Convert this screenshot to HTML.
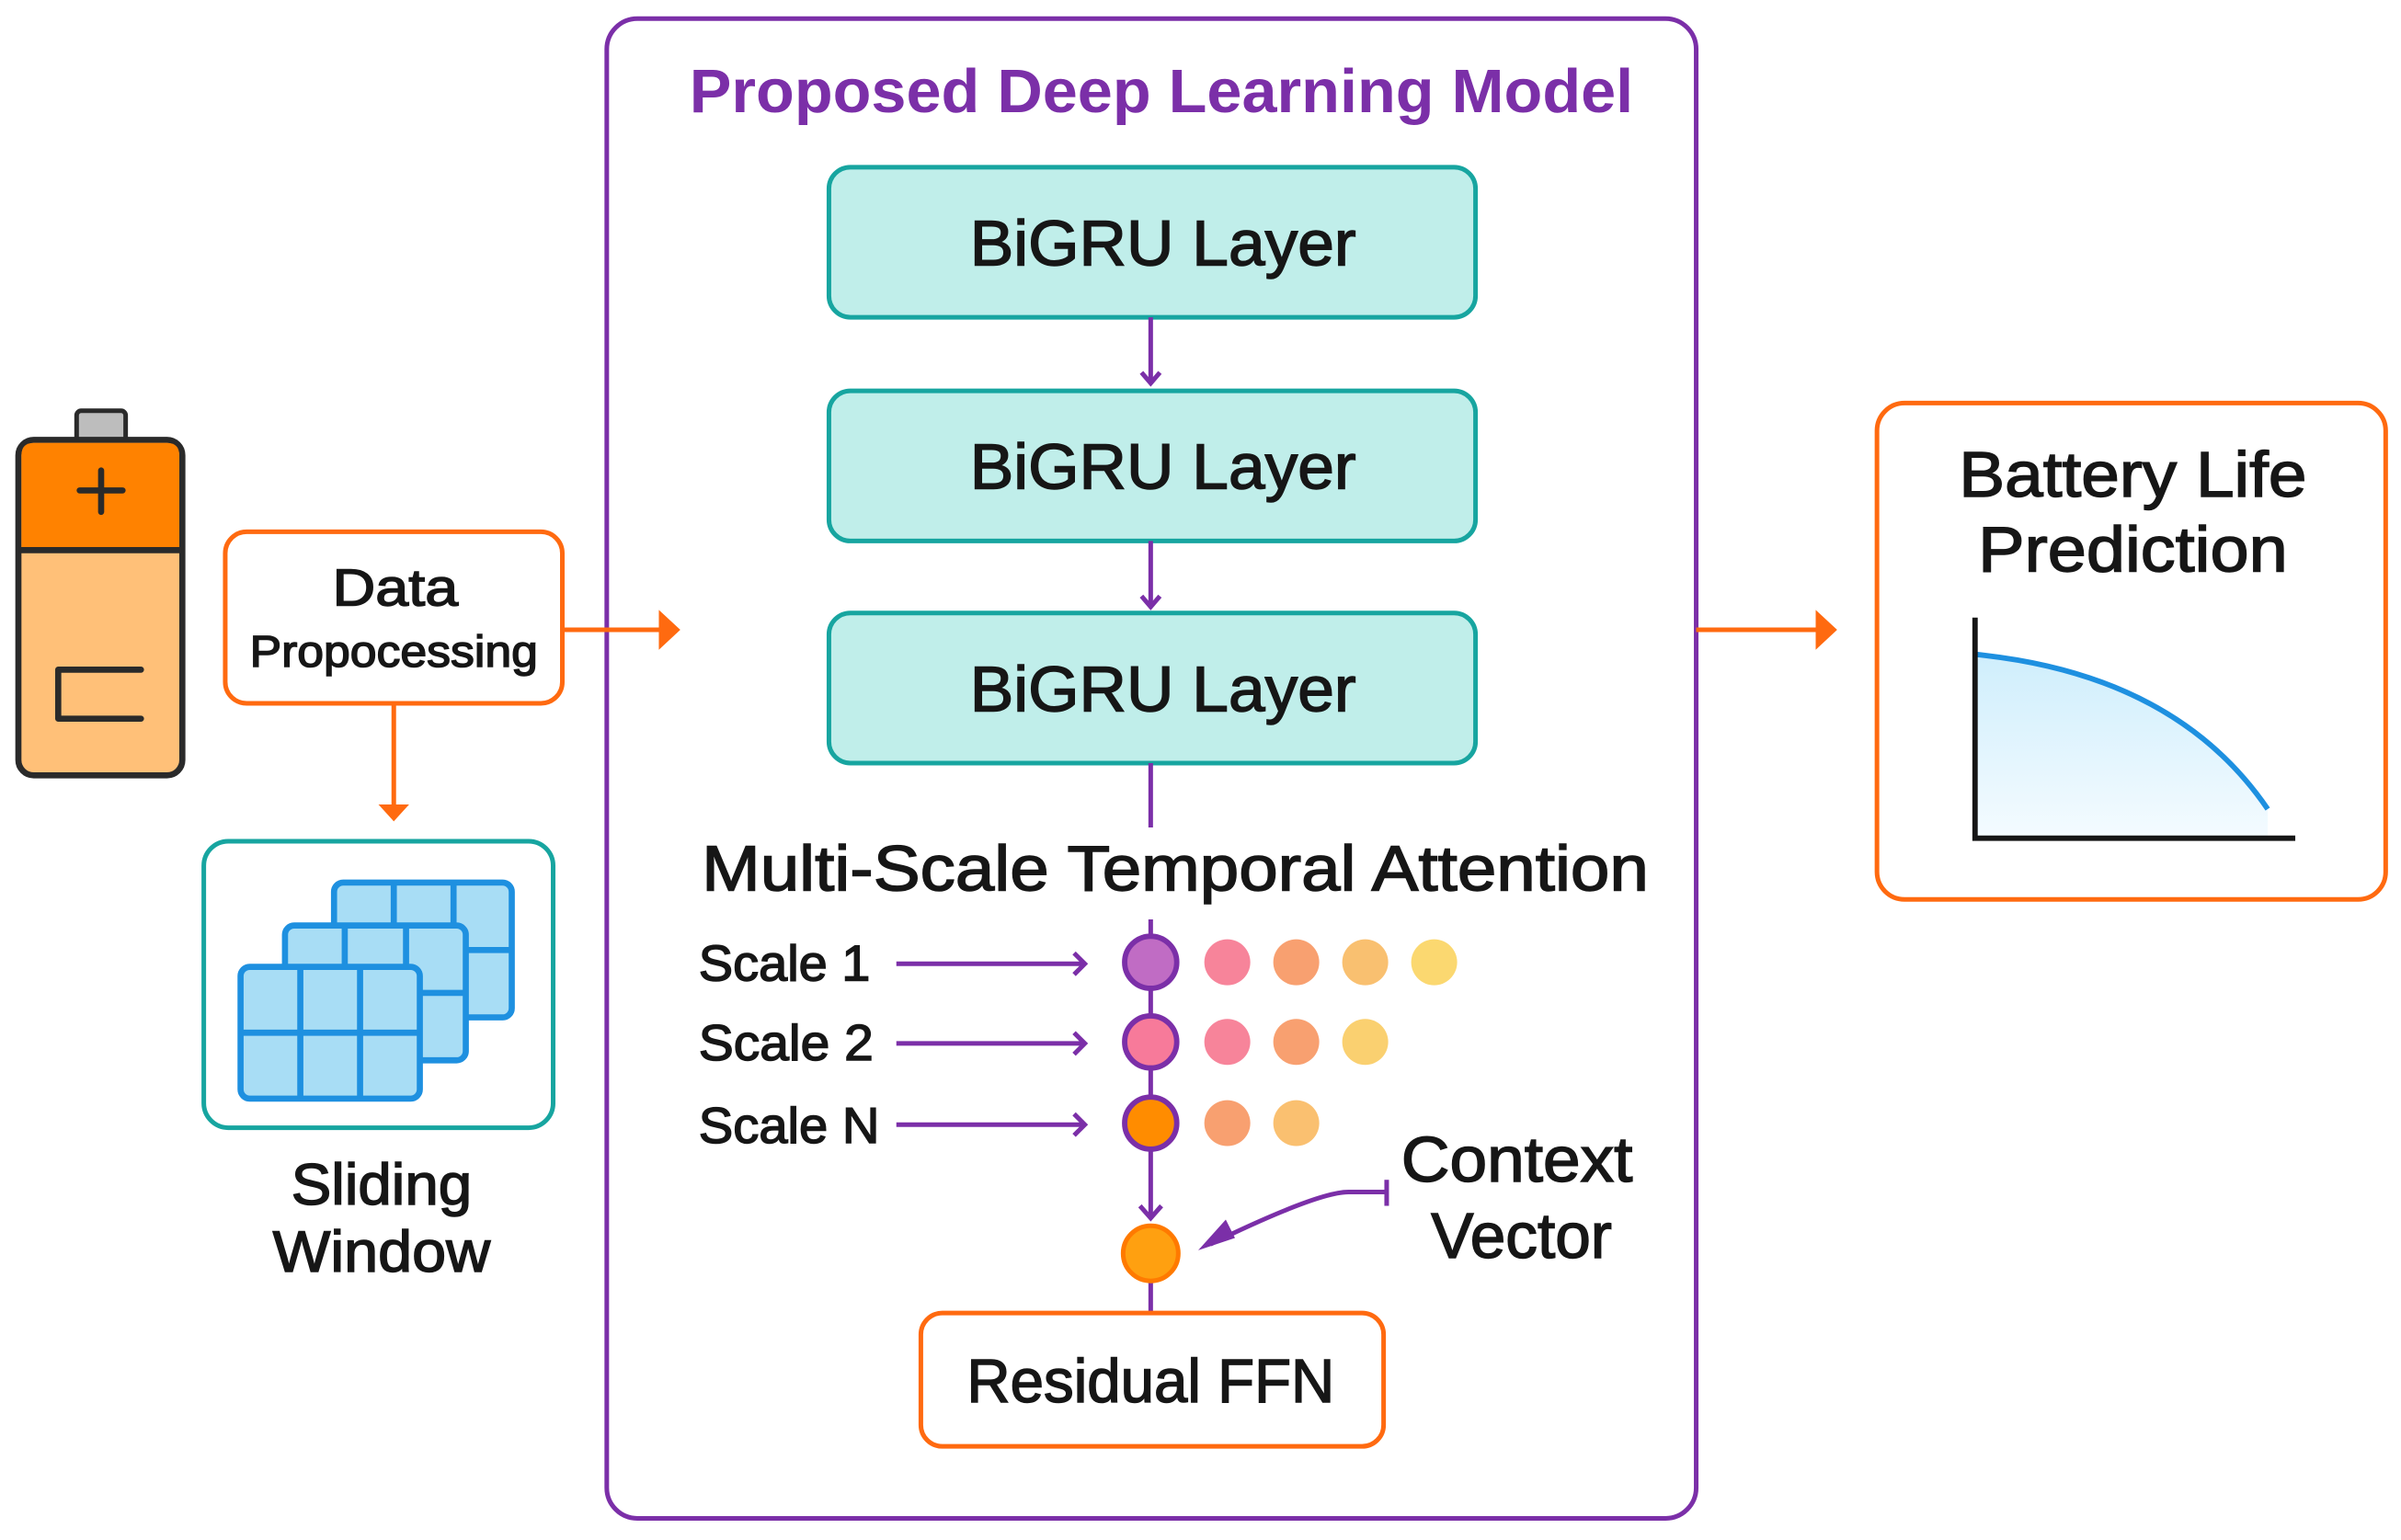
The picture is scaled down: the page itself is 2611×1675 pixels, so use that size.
<!DOCTYPE html>
<html><head><meta charset="utf-8"><style>
html,body{margin:0;padding:0;background:#fff;}
svg{display:block;}
text{font-family:"Liberation Sans",sans-serif;fill:#161616;stroke:#161616;stroke-width:0.9;}
</style></head><body>
<svg width="2611" height="1675" viewBox="0 0 1567 1005" xmlns="http://www.w3.org/2000/svg">
<defs>
<linearGradient id="g" x1="0" y1="0" x2="0" y2="1"><stop offset="0" stop-color="#cfeefc"/><stop offset="1" stop-color="#f4fbff"/></linearGradient>
</defs>
<rect x="0" y="0" width="1567" height="1005" fill="#fff"/>
<rect x="396" y="12" width="711" height="979" rx="20" fill="none" stroke="#7B2FA8" stroke-width="3"/>
<text x="758" y="73" font-size="40" text-anchor="middle" font-weight="bold" textLength="616" lengthAdjust="spacingAndGlyphs" style="fill:#7B2FA8;stroke:none">Proposed Deep Learning Model</text>
<g fill="#C0EEEA" stroke="#17A5A0" stroke-width="3">
<rect x="541" y="109" width="422" height="98" rx="14"/>
<rect x="541" y="255" width="422" height="98" rx="14"/>
<rect x="541" y="400" width="422" height="98" rx="14"/>
</g>
<g font-size="42" text-anchor="middle">
<text x="759" y="173" textLength="252" lengthAdjust="spacingAndGlyphs">BiGRU Layer</text>
<text x="759" y="319" textLength="252" lengthAdjust="spacingAndGlyphs">BiGRU Layer</text>
<text x="759" y="464" textLength="252" lengthAdjust="spacingAndGlyphs">BiGRU Layer</text>
</g>
<g stroke="#7B2FA8" stroke-width="3" fill="none">
<line x1="751" y1="207" x2="751" y2="250"/><path d="M745 243 L751 250 L757 243"/>
<line x1="751" y1="353" x2="751" y2="396"/><path d="M745 389 L751 396 L757 389"/>
<line x1="751" y1="498" x2="751" y2="540"/>
<line x1="751" y1="600" x2="751" y2="795"/><path d="M744 787 L751 795 L758 787"/>
<line x1="751" y1="836" x2="751" y2="857"/>
<line x1="585" y1="629" x2="708" y2="629"/><path d="M701 622 L708 629 L701 636"/>
<line x1="585" y1="681" x2="708" y2="681"/><path d="M701 674 L708 681 L701 688"/>
<line x1="585" y1="734" x2="708" y2="734"/><path d="M701 727 L708 734 L701 741"/>
<line x1="905" y1="770" x2="905" y2="787"/>
<path d="M905 778 L880 778 Q860 778 790 812"/>
</g>
<path d="M782 816 L800 796 L806 808 Z" fill="#7B2FA8"/>
<text x="767" y="581" font-size="42" text-anchor="middle" textLength="618" lengthAdjust="spacingAndGlyphs">Multi-Scale Temporal Attention</text>
<g font-size="33">
<text x="456" y="640" textLength="112" lengthAdjust="spacingAndGlyphs">Scale 1</text>
<text x="456" y="692" textLength="114" lengthAdjust="spacingAndGlyphs">Scale 2</text>
<text x="456" y="746" textLength="118" lengthAdjust="spacingAndGlyphs">Scale N</text>
</g>
<g stroke="#7B2FA8" stroke-width="3.5">
<circle cx="751" cy="628" r="17" fill="#C06CC4"/>
<circle cx="751" cy="680" r="17" fill="#F77A9A"/>
<circle cx="751" cy="733" r="17" fill="#FF8C00"/>
</g>
<circle cx="801" cy="628" r="15" fill="#F7849A"/>
<circle cx="846" cy="628" r="15" fill="#F8A070"/>
<circle cx="891" cy="628" r="15" fill="#F9C070"/>
<circle cx="936" cy="628" r="15" fill="#FBD870"/>
<circle cx="801" cy="680" r="15" fill="#F7849A"/>
<circle cx="846" cy="680" r="15" fill="#F8A070"/>
<circle cx="891" cy="680" r="15" fill="#FAD070"/>
<circle cx="801" cy="733" r="15" fill="#F8A070"/>
<circle cx="846" cy="733" r="15" fill="#FAC070"/>
<circle cx="751" cy="818" r="18" fill="#FFA010" stroke="#FF7A00" stroke-width="3"/>
<text x="990" y="771" font-size="42" text-anchor="middle" textLength="151" lengthAdjust="spacingAndGlyphs">Context</text>
<text x="993" y="821" font-size="42" text-anchor="middle" textLength="118" lengthAdjust="spacingAndGlyphs">Vector</text>
<rect x="601" y="857" width="302" height="87" rx="14" fill="#fff" stroke="#FF6A10" stroke-width="3"/>
<text x="751" y="915" font-size="40" text-anchor="middle" textLength="240" lengthAdjust="spacingAndGlyphs">Residual FFN</text>
<rect x="50" y="268" width="32" height="20" rx="3" fill="#BDBDBD" stroke="#2a2a2a" stroke-width="3"/>
<rect x="12" y="287" width="107" height="219" rx="10" fill="#FFC078" stroke="#2a2a2a" stroke-width="4"/>
<path d="M14 358 V297 Q14 289 22 289 H109 Q117 289 117 297 V358 Z" fill="#FF8200"/>
<line x1="12" y1="359" x2="119" y2="359" stroke="#2a2a2a" stroke-width="4"/>
<path d="M52 320 H80 M66 307 V334" stroke="#2a2a2a" stroke-width="4" stroke-linecap="round"/>
<path d="M92 437 H38 V469 H92" fill="none" stroke="#2a2a2a" stroke-width="4" stroke-linecap="round" stroke-linejoin="round"/>
<rect x="147" y="347" width="220" height="112" rx="14" fill="#fff" stroke="#FF6A10" stroke-width="3"/>
<text x="258" y="395" font-size="34" text-anchor="middle" textLength="82" lengthAdjust="spacingAndGlyphs">Data</text>
<text x="257" y="435" font-size="29" text-anchor="middle" textLength="188" lengthAdjust="spacingAndGlyphs">Propocessing</text>
<g stroke="#FF6A10" stroke-width="3">
<line x1="367" y1="411" x2="432" y2="411"/>
<line x1="257" y1="459" x2="257" y2="528"/>
<line x1="1107" y1="411" x2="1187" y2="411"/>
</g>
<path d="M430 398 L444 411 L430 424 Z" fill="#FF6A10"/>
<path d="M247 525 L257 536 L267 525 Z" fill="#FF6A10"/>
<path d="M1185 398 L1199 411 L1185 424 Z" fill="#FF6A10"/>
<rect x="133" y="549" width="228" height="187" rx="16" fill="#fff" stroke="#17A5A0" stroke-width="3"/>
<g stroke="#1E90E0" stroke-width="4" fill="#A8DDF5">
<rect x="218" y="576" width="116" height="88" rx="6"/>
<path d="M257 576 V664 M296 576 V664 M218 620 H334" fill="none"/>
<rect x="186" y="604" width="118" height="88" rx="6"/>
<path d="M225 604 V692 M265 604 V692 M186 648 H304" fill="none"/>
<rect x="157" y="631" width="117" height="86" rx="6"/>
<path d="M196 631 V717 M235 631 V717 M157 674 H274" fill="none"/>
</g>
<text x="249" y="786" font-size="38" text-anchor="middle" textLength="118" lengthAdjust="spacingAndGlyphs">Sliding</text>
<text x="249" y="830" font-size="38" text-anchor="middle" textLength="142" lengthAdjust="spacingAndGlyphs">Window</text>
<rect x="1225" y="263" width="332" height="324" rx="18" fill="#fff" stroke="#FF6A10" stroke-width="3"/>
<text x="1392" y="324" font-size="42" text-anchor="middle" textLength="227" lengthAdjust="spacingAndGlyphs">Battery Life</text>
<text x="1392" y="373" font-size="42" text-anchor="middle" textLength="202" lengthAdjust="spacingAndGlyphs">Prediction</text>
<path d="M1289 427 Q1420 440 1480 528 L1480 547 L1289 547 Z" fill="url(#g)"/>
<path d="M1289 427 Q1420 440 1480 528" fill="none" stroke="#1E90E0" stroke-width="3.5"/>
<path d="M1289 403 V547 H1498" fill="none" stroke="#161616" stroke-width="3.5"/>
</svg>
</body></html>
